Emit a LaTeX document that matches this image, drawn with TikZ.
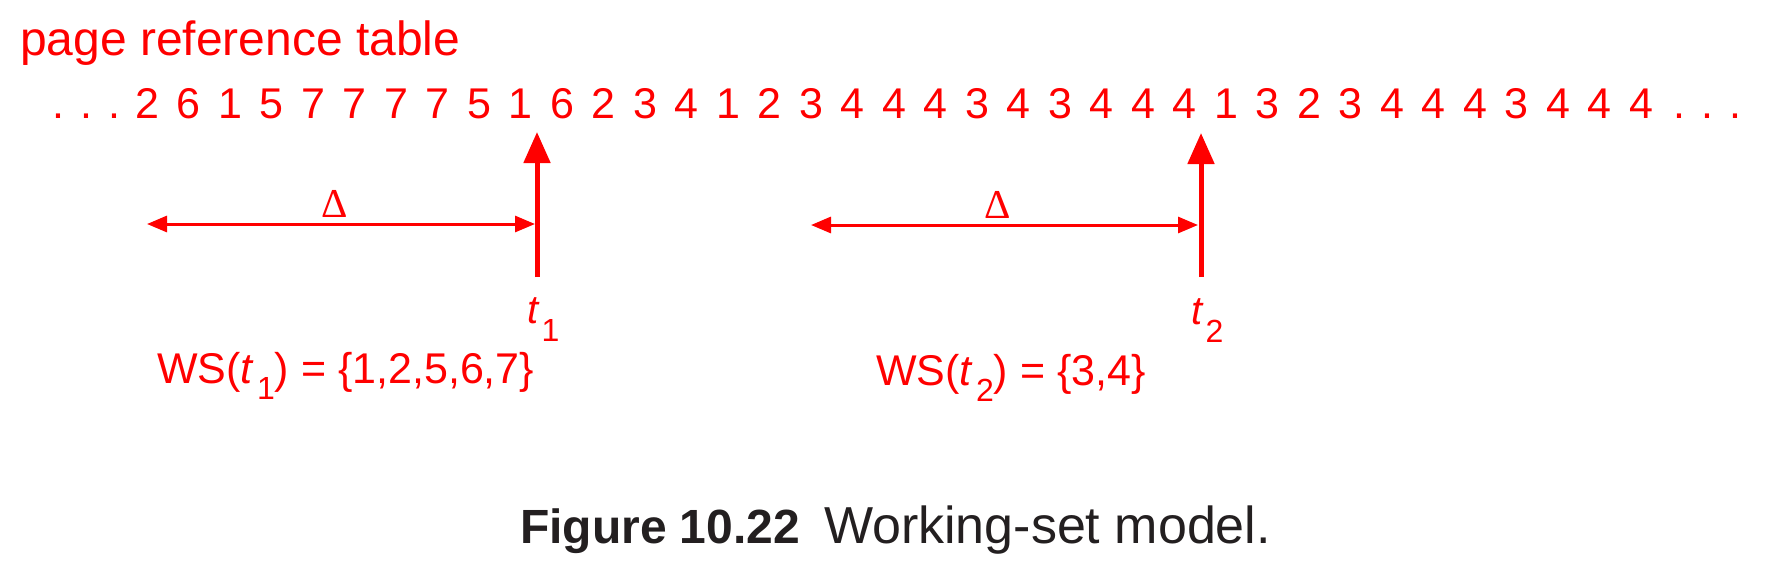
\documentclass[tikz,border=0pt]{standalone}
\usepackage{fontspec}
\setmainfont{Liberation Sans}
\newfontfamily\serifdelta{Liberation Serif}
\usetikzlibrary{arrows.meta}
\definecolor{figred}{RGB}{255,0,0}
\definecolor{capgray}{RGB}{35,31,32}
\newcommand{\tsubscr}[3]{\textit{t}\kern#2\raisebox{#3}{\fontsize{16}{16}\selectfont #1}}
\begin{document}
\begin{tikzpicture}[x=0.5pt,y=-0.5pt,
  lbl/.style={inner sep=0pt, outer sep=0pt, text=figred, font=\fontsize{21.5}{24}\selectfont},
  digit/.style={lbl, anchor=base},
  deltalbl/.style={lbl, anchor=base, font=\serifdelta\fontsize{20.5}{22}\selectfont},
  timeline/.style={draw=figred, line width=2.5pt, -{Triangle[length=15.5pt,width=13pt]}},
  window/.style={draw=figred, line width=1.5pt, {Triangle[length=10pt,width=8pt]}-{Triangle[length=10pt,width=8pt]}},
  caption/.style={inner sep=0pt, outer sep=0pt, anchor=base west, text=capgray}
]
\useasboundingbox (0,0) rectangle (1767,580);

% title
\node[lbl, anchor=base west, font=\fontsize{24}{28}\selectfont] (title) at (20,55) {page reference table};

% reference string
\node[lbl, anchor=base west] (dotsl) at (52,118) {.\kern8.25pt.\kern8.25pt.};
\foreach \d [count=\i from 0] in {2,6,1,5,7,7,7,7,5,1,6,2,3,4,1,2,3,4,4,4,3,4,3,4,4,4,1,3,2,3,4,4,4,3,4,4,4}
  \node[digit] (p\i) at ({147+41.5*\i},118) {\d};
\node[lbl, anchor=base west] (dotsr) at (1673,118) {.\kern8.25pt.\kern8.25pt.};

% time t1
\coordinate (t1bot) at (537,277);
\coordinate (t1top) at (537,132);
\draw[timeline] (t1bot) -- (t1top);
\coordinate (w1l) at (147,224);
\coordinate (w1r) at (535,224);
\draw[window] (w1l) -- (w1r);
\node[deltalbl] (delta1) at (334.5,217) {Δ};
\node[lbl, anchor=base west, font=\fontsize{20}{22}\selectfont] (t1lab) at (527,323) {\tsubscr{1}{1pt}{-9pt}};
\node[lbl, anchor=base west] (ws1) at (157,383) {WS(\tsubscr{1}{1.5pt}{-8pt}) = \{1,2,5,6,7\}};

% time t2
\coordinate (t2bot) at (1201,277);
\coordinate (t2top) at (1201,133);
\draw[timeline] (t2bot) -- (t2top);
\coordinate (w2l) at (811,225);
\coordinate (w2r) at (1198,225);
\draw[window] (w2l) -- (w2r);
\node[deltalbl] (delta2) at (998,218) {Δ};
\node[lbl, anchor=base west, font=\fontsize{20}{22}\selectfont] (t2lab) at (1191,324) {\tsubscr{2}{1pt}{-9pt}};
\node[lbl, anchor=base west] (ws2) at (876,385) {WS(\tsubscr{2}{1.5pt}{-8pt}) = \{3,4\}};

% caption
\node[caption, font=\bfseries\fontsize{24}{28}\selectfont] (capnum) at (520,543) {Figure 10.22};
\node[caption, font=\fontsize{26}{29}\selectfont] (captext) at (824,543) {Working-set model.};
\end{tikzpicture}
\end{document}
